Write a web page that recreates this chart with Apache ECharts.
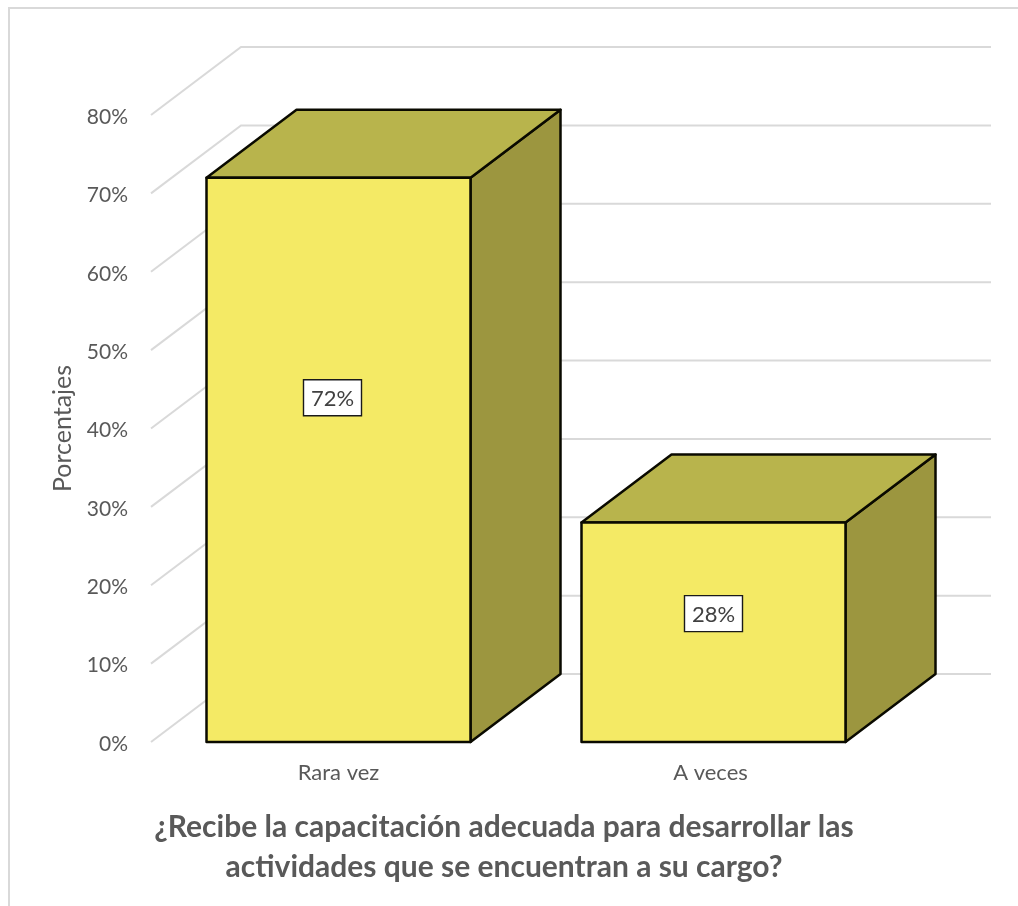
<!DOCTYPE html>
<html>
<head>
<meta charset="utf-8">
<style>
  html, body { margin: 0; padding: 0; background: #fff; }
  #chart { width: 1018px; height: 906px; }
</style>
<script src="https://cdn.jsdelivr.net/npm/echarts@6/dist/echarts.min.js"></script>
</head>
<body>
<div id="chart"></div>
<script>
// Survey answers, in percent
const categories = ['Rara vez', 'A veces'];
const percentages = [72, 28];
const valueTicks = [0, 10, 20, 30, 40, 50, 60, 70, 80];
const axisTitle = 'Porcentajes';
const chartTitle = '¿Recibe la capacitación adecuada para desarrollar las\nactividades que se encuentran a su cargo?';

// Oblique projection used for the pseudo 3D look
const depthX = 90;
const depthY = -68;
const barWidth = 264;
const labelStyle = [
  { dx: -6, share: 0.61 },
  { dx: 0, share: 0.585 }
];
const fontFamily = 'Lato, "Open Sans", sans-serif';

const chart = echarts.init(document.getElementById('chart'), null, { renderer: 'canvas' });

// Floor-less wall: a diagonal on the side wall and a horizontal on the back wall per tick
function renderWall(params, api) {
  const v = api.value(0);
  const sys = params.coordSys;
  const y = api.coord([0, v])[1];
  const left = sys.x;
  const right = sys.x + sys.width + depthX;
  return {
    type: 'polyline',
    silent: true,
    shape: { points: [[left, y], [left + depthX, y + depthY], [right, y + depthY]] },
    style: { stroke: '#d9d9d9', lineWidth: 2, fill: null }
  };
}

// One box: side and top faces behind the front face, then the value tag
function renderBox(params, api) {
  const idx = api.value(0);
  const val = api.value(1);
  const top = api.coord([idx, val]);
  const base = api.coord([idx, 0]);
  const x0 = top[0] - barWidth / 2;
  const x1 = top[0] + barWidth / 2;
  const edge = { stroke: '#0a0a00', lineWidth: 2.5, lineJoin: 'round' };
  const tag = labelStyle[idx];
  const tagX = top[0] + tag.dx;
  const tagY = base[1] - (base[1] - top[1]) * tag.share;
  return {
    type: 'group',
    children: [
      {
        type: 'polygon',
        shape: { points: [[x1, top[1]], [x1 + depthX, top[1] + depthY], [x1 + depthX, base[1] + depthY], [x1, base[1]]] },
        style: Object.assign({ fill: '#9c963f' }, edge)
      },
      {
        type: 'polygon',
        shape: { points: [[x0, top[1]], [x0 + depthX, top[1] + depthY], [x1 + depthX, top[1] + depthY], [x1, top[1]]] },
        style: Object.assign({ fill: '#b8b44c' }, edge)
      },
      {
        type: 'rect',
        shape: { x: x0, y: top[1], width: barWidth, height: base[1] - top[1] },
        style: Object.assign({ fill: '#f4ea65' }, edge)
      },
      {
        type: 'rect',
        shape: { x: tagX - 29, y: tagY - 18, width: 58, height: 36 },
        style: { fill: '#ffffff', stroke: '#1a1a1a', lineWidth: 1.4 }
      },
      {
        type: 'text',
        style: {
          x: tagX, y: tagY + 1,
          text: val + '%',
          fill: '#404040',
          fontFamily: fontFamily,
          fontSize: 22,
          align: 'center',
          verticalAlign: 'middle'
        }
      }
    ]
  };
}

chart.setOption({
  backgroundColor: '#ffffff',
  animation: false,
  title: {
    text: chartTitle,
    left: 499,
    top: 802,
    textAlign: 'center',
    textStyle: {
      color: '#595959',
      fontFamily: fontFamily,
      fontWeight: 'bold',
      fontSize: 30,
      lineHeight: 40
    }
  },
  graphic: [{
    type: 'polyline',
    silent: true,
    shape: { points: [[9, 906], [9, 8], [1018, 8]] },
    style: { stroke: '#d9d9d9', lineWidth: 2, fill: null }
  }],
  grid: { left: 151, top: 115, width: 750, height: 627, containLabel: false },
  xAxis: {
    type: 'category',
    data: categories,
    axisLine: { show: false },
    axisTick: { show: false },
    axisLabel: {
      color: '#595959',
      fontFamily: fontFamily,
      fontSize: 22,
      margin: 20,
      formatter: (name, i) => i === 1 ? '{nudged|' + name + '}' : '{plain|' + name + '}',
      rich: {
        plain: { color: '#595959', fontFamily: fontFamily, fontSize: 22 },
        nudged: { color: '#595959', fontFamily: fontFamily, fontSize: 22, padding: [0, 6, 0, 0] }
      }
    }
  },
  yAxis: {
    type: 'value',
    min: valueTicks[0],
    max: valueTicks[valueTicks.length - 1],
    interval: 10,
    name: axisTitle,
    nameLocation: 'middle',
    nameGap: 75,
    nameTextStyle: { color: '#595959', fontFamily: fontFamily, fontSize: 25 },
    axisLine: { show: false },
    axisTick: { show: false },
    splitLine: { show: false },
    axisLabel: {
      color: '#595959',
      fontFamily: fontFamily,
      margin: 23,
      formatter: '{tick|{value}%}',
      rich: {
        tick: { color: '#595959', fontFamily: fontFamily, fontSize: 21, padding: [4, 0, 0, 0] }
      }
    }
  },
  series: [
    {
      type: 'custom',
      name: 'Paredes',
      coordinateSystem: 'cartesian2d',
      renderItem: renderWall,
      encode: { y: 0 },
      data: valueTicks.map(v => [v]),
      silent: true,
      z: 1
    },
    {
      type: 'custom',
      name: 'Respuestas',
      coordinateSystem: 'cartesian2d',
      renderItem: renderBox,
      encode: { x: 0, y: 1 },
      data: percentages.map((v, i) => [i, v]),
      z: 2
    }
  ]
});
</script>
</body>
</html>
